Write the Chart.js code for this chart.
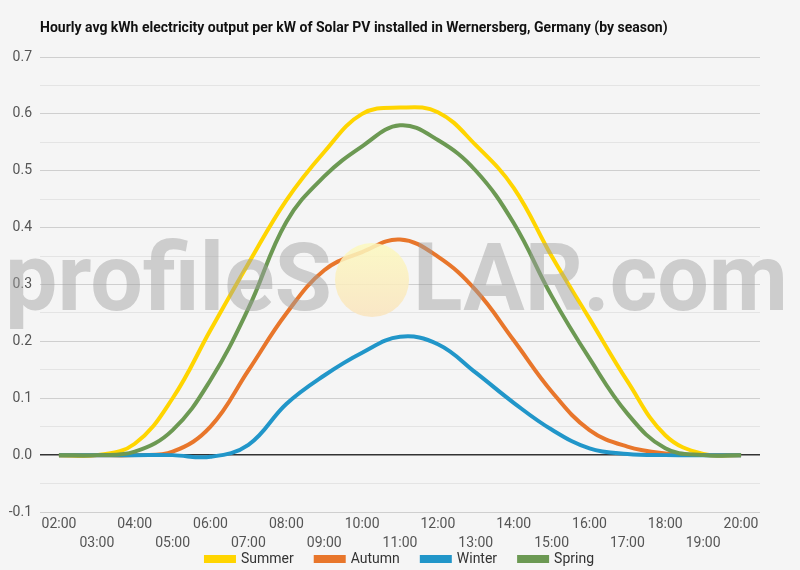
<!DOCTYPE html>
<html>
<head>
<meta charset="utf-8">
<script src="https://cdn.jsdelivr.net/npm/chart.js@4.4.1/dist/chart.umd.min.js"></script>
<style>
  body { margin: 0; background: #f5f5f5; }
  #wrap { width: 800px; height: 570px; }
</style>
</head>
<body>
<div id="wrap"><canvas id="chart" width="800" height="570"></canvas></div>
<script>
// categorias (horas)
const hours = ['02:00', '03:00', '04:00', '05:00', '06:00', '07:00', '08:00', '09:00', '10:00', '11:00',
  '12:00', '13:00', '14:00', '15:00', '16:00', '17:00', '18:00', '19:00', '20:00'];

// valores por estacion (kWh por kW)
const summer = [0, 0, 0.02, 0.10, 0.22, 0.337, 0.448, 0.533, 0.600, 0.611, 0.603, 0.545, 0.47, 0.35, 0.24, 0.13, 0.035, 0.002, 0];
const autumn = [0, 0, 0, 0.006, 0.05, 0.149, 0.249, 0.325, 0.357, 0.379, 0.349, 0.29, 0.202, 0.112, 0.044, 0.015, 0.003, 0, 0];
const winter = [0, 0, 0, 0, -0.003, 0.018, 0.09, 0.14, 0.18, 0.208, 0.195, 0.145, 0.092, 0.045, 0.012, 0.002, 0, 0, 0];
const spring = [0, 0, 0.006, 0.044, 0.132, 0.258, 0.41, 0.49, 0.543, 0.58, 0.554, 0.50, 0.408, 0.28, 0.17, 0.073, 0.012, 0, 0];

const titulo = 'Hourly avg kWh electricity output per kW of Solar PV installed in Wernersberg, Germany (by season)';

// titulo dibujado a mano (alineado con el area del grafico)
const tituloPlugin = {
  id: 'tituloPlugin',
  beforeDraw(chart) {
    const ctx = chart.ctx;
    ctx.save();
    ctx.fillStyle = '#f5f5f5';
    ctx.fillRect(0, 0, chart.width, chart.height);
    ctx.font = 'bold 14px Roboto';
    ctx.fillStyle = '#111';
    ctx.textBaseline = 'middle';
    ctx.fillText(titulo, 40, 28);
    ctx.restore();
  }
};

// la leyenda se sube para quedar junto a las etiquetas del eje x
const leyendaPos = {
  id: 'leyendaPos',
  afterLayout(chart) {
    const l = chart.legend;
    l.top = 530;
    l.bottom = 570;
    l.height = 40;
    l.left += 20;
    l.right += 20;
  }
};

// marca de agua "profileSOLAR.com"
const marcaAgua = {
  id: 'marcaAgua',
  afterDraw(chart) {
    const ctx = chart.ctx;
    ctx.save();
    // sol
    const g = ctx.createLinearGradient(0, 243, 0, 317);
    g.addColorStop(0, 'rgba(252, 249, 190, 0.85)');
    g.addColorStop(1, 'rgba(250, 228, 190, 0.85)');
    ctx.fillStyle = g;
    ctx.beginPath();
    ctx.arc(372, 280, 37, 0, Math.PI * 2);
    ctx.fill();
    // texto
    ctx.font = 'bold 95px Roboto';
    ctx.fillStyle = 'rgba(160, 160, 160, 0.47)';
    ctx.textBaseline = 'alphabetic';
    const partes = [['profileS', 5, 332], ['LAR.com', 413, 788]];
    partes.forEach(([txt, x0, x1]) => {
      const w = ctx.measureText(txt).width;
      ctx.save();
      ctx.translate(x0, 310);
      ctx.scale((x1 - x0) / w, 1);
      ctx.fillText(txt, 0, 0);
      ctx.restore();
    });
    ctx.restore();
  }
};

const ctx = document.getElementById('chart').getContext('2d');
const grafico = new Chart(ctx, {
  type: 'line',
  data: {
    labels: hours,
    datasets: [
      { label: 'Summer', data: summer, borderColor: '#ffd500', backgroundColor: '#ffd500', order: 3 },
      { label: 'Autumn', data: autumn, borderColor: '#e8762b', backgroundColor: '#e8762b', order: 2 },
      { label: 'Winter', data: winter, borderColor: '#2196c9', backgroundColor: '#2196c9', order: 1 },
      { label: 'Spring', data: spring, borderColor: '#6c9953', backgroundColor: '#6c9953', order: 0 }
    ]
  },
  options: {
    responsive: false,
    animation: false,
    layout: { padding: { top: 57, right: 40, left: 0, bottom: 0 } },
    elements: {
      line: { borderWidth: 4, tension: 0.4, fill: false },
      point: { radius: 0, hoverRadius: 0 }
    },
    scales: {
      x: {
        offset: true,
        grid: { display: false },
        border: { display: false },
        ticks: {
          autoSkip: false,
          maxRotation: 0,
          padding: -5,
          color: '#555',
          font: { family: 'Roboto', size: 14, lineHeight: 1.35 },
          callback: function(value, index) {
            return index % 2 === 0 ? [hours[index], ''] : ['', hours[index]];
          }
        },
        afterFit: function(scale) { scale.height = 46; }
      },
      y: {
        min: -0.1,
        max: 0.7,
        border: { display: false },
        grid: {
          drawTicks: false,
          color: function(c) {
            const v = Math.round(c.tick.value * 100);
            if (v === 0) return '#333';
            return v % 10 === 0 ? '#cfcfcf' : '#e4e4e4';
          },
          lineWidth: function(c) {
            return Math.round(c.tick.value * 100) === 0 ? 1.5 : 1;
          }
        },
        ticks: {
          stepSize: 0.05,
          padding: 8,
          color: '#555',
          font: { family: 'Roboto', size: 14 },
          callback: function(v) {
            const n = Math.round(v * 100);
            return n % 10 === 0 ? (n / 100).toFixed(1) : '';
          }
        },
        afterFit: function(scale) { scale.width = 40; }
      }
    },
    plugins: {
      title: { display: false },
      tooltip: { enabled: false },
      legend: {
        display: true,
        position: 'bottom',
        maxHeight: 12,
        labels: {
          boxWidth: 28,
          boxHeight: 4,
          padding: 22,
          color: '#333',
          font: { family: 'Roboto', size: 14 },
          sort: (a, b) => a.datasetIndex - b.datasetIndex
        }
      }
    }
  },
  plugins: [tituloPlugin, leyendaPos, marcaAgua]
});
</script>
</body>
</html>
